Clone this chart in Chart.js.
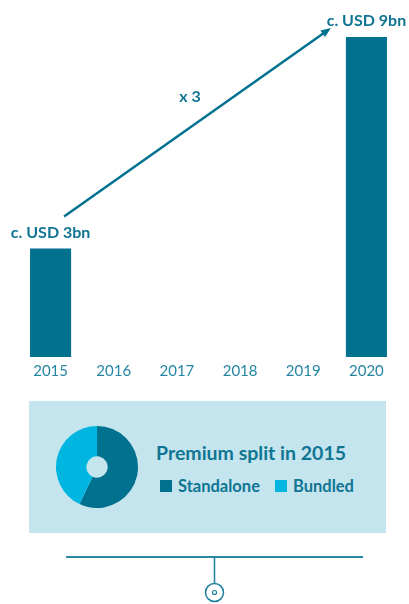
<!DOCTYPE html>
<html>
<head>
<meta charset="utf-8">
<script src="https://cdn.jsdelivr.net/npm/chart.js@4"></script>
<style>
  html, body { margin: 0; padding: 0; background: #fff; }
  body { width: 409px; height: 604px; position: relative; overflow: hidden; font-family: Lato, "Noto Sans", sans-serif; }
  #barBox { position: absolute; left: 0; top: 0; width: 409px; height: 385px; }
  #panel { position: absolute; left: 29px; top: 401px; width: 357px; height: 132px; background: #c4e4ee; }
  #pieBox { position: absolute; left: 27px; top: 25px; width: 82px; height: 82px; }
  #splitTitle { position: absolute; left: 127px; top: 40px; font-weight: bold; font-size: 19.5px; line-height: 24px; color: #0f7592; white-space: nowrap; }
  #splitLegend { position: absolute; left: 131px; top: 75px; font-weight: bold; font-size: 16.5px; line-height: 20px; color: #0f7592; white-space: nowrap; display: flex; }
  #splitLegend span.item { display: flex; align-items: center; margin-right: 15px; }
  #splitLegend span.sw { width: 12px; height: 12px; margin-right: 6px; display: inline-block; }
  #deco { position: absolute; left: 0; top: 545px; }
</style>
</head>
<body>
<div id="barBox"><canvas id="premiumChart"></canvas></div>
<div id="panel">
  <div id="pieBox"><canvas id="splitChart"></canvas></div>
  <div id="splitTitle"></div>
  <div id="splitLegend"></div>
</div>
<svg id="deco" width="409" height="59">
  <line x1="66" y1="12" x2="363" y2="12" stroke="#2a8aa6" stroke-width="2"/>
  <line x1="214.5" y1="12" x2="214.5" y2="38" stroke="#1d7f9c" stroke-width="1.5"/>
  <circle cx="214.5" cy="47.5" r="9" fill="none" stroke="#1d7f9c" stroke-width="1.5"/>
  <circle cx="214.5" cy="47.5" r="2" fill="none" stroke="#1d7f9c" stroke-width="1.2"/>
</svg>
<script>
// ===============================
// DATOS
// ===============================
const years = ["2015", "2016", "2017", "2018", "2019", "2020"];
const premiumBn = [3.05, null, null, null, null, 9];
const barNotes = ["c. USD 3bn", "", "", "", "", "c. USD 9bn"];
const growthNote = "x 3";

const splitTitle = "Premium split in 2015";
const splitLabels = ["Standalone", "Bundled"];
const splitShares = [57, 43];

// ===============================
// COLORES
// ===============================
const azulOscuro = "#00718f";
const azulClaro = "#00b6e0";
const textoAzul = "#0f7592";
const splitColors = [azulOscuro, azulClaro];

// ===============================
// PLUGIN: ETIQUETAS Y FLECHA
// ===============================
const notasPlugin = {
    id: "notas",
    afterDatasetsDraw(chart) {
        const ctx = chart.ctx;
        const bars = chart.getDatasetMeta(0).data;
        const idx = premiumBn.map((v, i) => v != null ? i : -1).filter(i => i >= 0);
        ctx.save();
        ctx.font = "bold 16px Lato";
        ctx.fillStyle = textoAzul;
        ctx.textAlign = "center";
        ctx.textBaseline = "middle";
        idx.forEach(i => {
            if (barNotes[i]) ctx.fillText(barNotes[i], bars[i].x, bars[i].y - 16);
        });

        // flecha entre primera y última barra
        const a = bars[idx[0]], b = bars[idx[idx.length - 1]];
        const x0 = a.x + 13.5, y0 = a.y - 32;
        const x1 = b.x - 35.5, y1 = b.y - 9;
        const ang = Math.atan2(y1 - y0, x1 - x0);
        ctx.strokeStyle = azulOscuro;
        ctx.fillStyle = azulOscuro;
        ctx.lineWidth = 2.5;
        ctx.beginPath();
        ctx.moveTo(x0, y0);
        ctx.lineTo(x1 - 6 * Math.cos(ang), y1 - 6 * Math.sin(ang));
        ctx.stroke();
        ctx.beginPath();
        ctx.moveTo(x1, y1);
        ctx.lineTo(x1 - 10 * Math.cos(ang) + 4 * Math.sin(ang), y1 - 10 * Math.sin(ang) - 4 * Math.cos(ang));
        ctx.lineTo(x1 - 10 * Math.cos(ang) - 4 * Math.sin(ang), y1 - 10 * Math.sin(ang) + 4 * Math.cos(ang));
        ctx.closePath();
        ctx.fill();

        ctx.fillStyle = textoAzul;
        ctx.fillText(growthNote, (x0 + x1) / 2 - 7.5, (y0 + y1) / 2 - 25);
        ctx.restore();
    }
};

// ===============================
// GRÁFICA 1: BARRAS - PRIMAS
// ===============================
new Chart(document.getElementById("premiumChart"), {
    type: "bar",
    data: {
        labels: years,
        datasets: [{
            data: premiumBn,
            backgroundColor: azulOscuro,
            barPercentage: 0.65,
            categoryPercentage: 1
        }]
    },
    options: {
        responsive: true,
        maintainAspectRatio: false,
        animation: false,
        layout: { padding: { top: 37, left: 19, right: 11, bottom: 0 } },
        plugins: { legend: { display: false }, tooltip: { enabled: false } },
        scales: {
            x: {
                grid: { display: false, drawTicks: false },
                border: { display: false },
                ticks: { color: "#2586a4", padding: 5, font: { family: "Lato", size: 15 } }
            },
            y: { display: false, min: 0, max: 9 }
        }
    },
    plugins: [notasPlugin]
});

// ===============================
// GRÁFICA 2: DONA - REPARTO 2015
// ===============================
new Chart(document.getElementById("splitChart"), {
    type: "doughnut",
    data: {
        labels: splitLabels,
        datasets: [{
            data: splitShares,
            backgroundColor: splitColors,
            borderWidth: 0
        }]
    },
    options: {
        responsive: true,
        maintainAspectRatio: false,
        animation: false,
        cutout: "26%",
        plugins: { legend: { display: false }, tooltip: { enabled: false } }
    }
});

document.getElementById("splitTitle").textContent = splitTitle;
const leyenda = document.getElementById("splitLegend");
splitLabels.forEach((l, i) => {
    const item = document.createElement("span");
    item.className = "item";
    const sw = document.createElement("span");
    sw.className = "sw";
    sw.style.background = splitColors[i];
    item.appendChild(sw);
    item.appendChild(document.createTextNode(l));
    leyenda.appendChild(item);
});
</script>
</body>
</html>
